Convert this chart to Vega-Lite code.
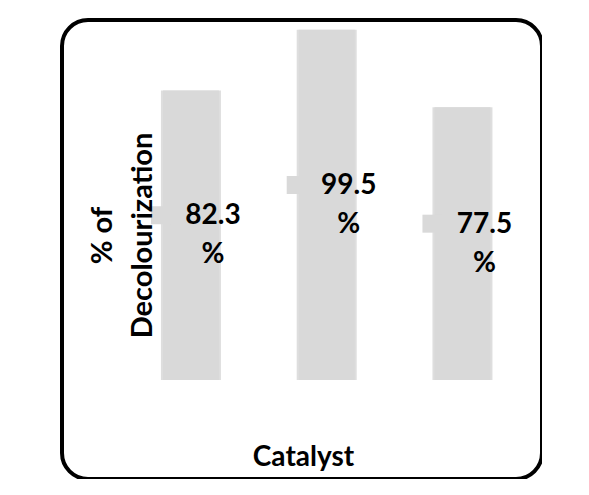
{
  "$schema": "https://vega.github.io/schema/vega-lite/v6.json",
  "width": 480,
  "height": 459,
  "autosize": {"type": "none"},
  "padding": {"left": 62, "top": 20, "right": 0, "bottom": 0},
  "background": "white",
  "config": {
    "view": {"stroke": "black", "strokeWidth": 4, "cornerRadius": 26},
    "font": "Lato"
  },
  "data": {
    "values": [
      {"catalyst": "Catalyst 1", "value": 82.3, "label": "82.3 %"},
      {"catalyst": "Catalyst 2", "value": 99.5, "label": "99.5 %"},
      {"catalyst": "Catalyst 3", "value": 77.5, "label": "77.5 %"}
    ]
  },
  "encoding": {
    "x": {
      "field": "catalyst",
      "type": "nominal",
      "sort": null,
      "scale": {"paddingInner": 0.5875, "paddingOuter": 0.5617, "align": 0.662},
      "axis": {
        "title": "Catalyst",
        "labels": false,
        "ticks": false,
        "domain": false,
        "titleFont": "Lato",
        "titleFontSize": 28,
        "titleFontWeight": "bold",
        "titleColor": "black",
        "titleX": 241,
        "titleY": -22,
        "titleAlign": "center",
        "titleBaseline": "middle"
      }
    }
  },
  "layer": [
    {
      "mark": {"type": "bar", "width": 60, "color": "#a0a0a0", "opacity": 0.35, "y2Offset": 2},
      "encoding": {
        "y": {
          "field": "value",
          "type": "quantitative",
          "scale": {"domain": [-28.1, 102.3], "nice": false, "zero": false},
          "axis": {
            "title": ["% of", "Decolourization"],
            "labels": false,
            "ticks": false,
            "domain": false,
            "grid": false,
            "zindex": 1,
            "titleFont": "Lato",
            "titleFontSize": 29,
            "titleFontWeight": "bold",
            "titleColor": "black",
            "titleAngle": -90,
            "titleX": 40,
            "titleY": 215,
            "titleAlign": "center",
            "titleBaseline": "middle",
            "titleLineHeight": 40
          }
        }
      }
    },
    {
      "mark": {"type": "bar", "width": 56, "color": "#d9d9d9"},
      "encoding": {
        "y": {
          "field": "value",
          "type": "quantitative",
          "scale": {"domain": [-28.1, 102.3], "nice": false, "zero": false},
          "axis": null
        }
      }
    },
    {
      "mark": {"type": "tick", "orient": "horizontal", "size": 20, "thickness": 18, "xOffset": -30, "yOffset": -20, "color": "#d9d9d9", "opacity": 1},
      "encoding": {
        "y": {
          "field": "value",
          "type": "quantitative",
          "scale": {"domain": [-56.2, 204.6], "nice": false, "zero": false},
          "axis": null
        }
      }
    },
    {
      "mark": {"type": "text", "font": "Lato", "fontSize": 28, "fontWeight": "bold", "color": "black", "lineBreak": " ", "lineHeight": 39, "dx": 22, "dy": -19, "align": "center", "baseline": "middle"},
      "encoding": {
        "text": {"field": "label"},
        "y": {
          "field": "value",
          "type": "quantitative",
          "scale": {"domain": [-56.2, 204.6], "nice": false, "zero": false},
          "axis": null
        }
      }
    }
  ],
  "resolve": {"scale": {"y": "independent"}}
}
